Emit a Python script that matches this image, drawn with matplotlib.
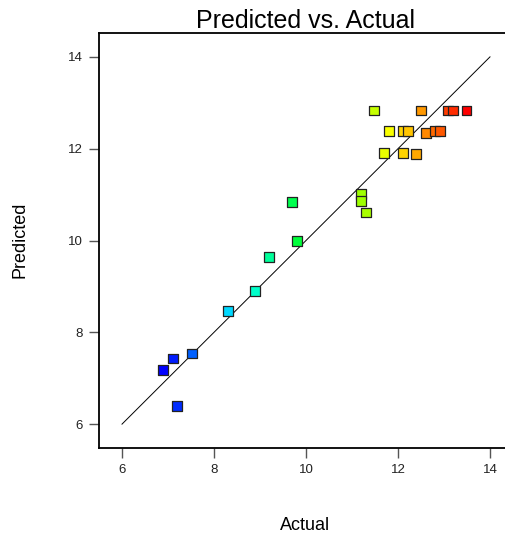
import matplotlib
matplotlib.use("Agg")
import matplotlib.pyplot as plt
from matplotlib.colors import LinearSegmentedColormap
import numpy as np

plt.rcParams['font.family'] = ['Liberation Sans', 'DejaVu Sans']

# values
actual = [6.90, 7.10, 7.52, 7.20, 8.30, 8.89, 9.20, 9.70, 9.81,
          11.20, 11.20, 11.30, 11.48, 11.70, 11.80, 12.10, 12.21, 12.10,
          12.40, 12.50, 12.60, 12.80, 12.91, 13.09, 13.20, 13.49]
predicted = [7.18, 7.43, 7.54, 6.40, 8.46, 8.90, 9.64, 10.84, 9.99,
             11.01, 10.86, 10.61, 12.83, 11.90, 12.38, 12.38, 12.38, 11.91,
             11.88, 12.83, 12.35, 12.38, 12.38, 12.83, 12.83, 12.83]
ticks = [6, 8, 10, 12, 14]

cmap = LinearSegmentedColormap.from_list(
    'de', ['#0000ff', '#00ffff', '#00ff00', '#ffff00', '#ff0000'])

W, H = 506, 537
fig = plt.figure(figsize=(W / 100, H / 100), dpi=100)
ax = fig.add_axes([99 / W, 1 - 448 / H, 414 / W, 415 / H])

x = np.array(actual)
y = np.array(predicted)
ax.plot([6, 14], [6, 14], color='black', lw=0.7, zorder=1)
ax.scatter(x, y, c=x, cmap=cmap, vmin=x.min(), vmax=x.max(), marker='s',
           s=50, edgecolors='#222222', linewidths=0.9, zorder=2)

ax.set_xlim(5.5, 14.5)
ax.set_ylim(5.48, 14.52)
ax.set_xticks(ticks)
ax.set_yticks(ticks)
ax.tick_params(direction='out', length=7.5, width=1, color='#555555',
               labelsize=9.5, labelcolor='#222222', pad=4)
for sp in ax.spines.values():
    sp.set_linewidth(1.3)

ax.set_title('Predicted vs. Actual', fontsize=18, pad=3)
fig.text(305 / W, 1 - 525 / H, 'Actual', fontsize=13, ha='center', va='center')
fig.text(20 / W, 1 - 240 / H, 'Predicted', fontsize=13, ha='center',
         va='center', rotation=90)

fig.savefig('out.png', dpi=100)
